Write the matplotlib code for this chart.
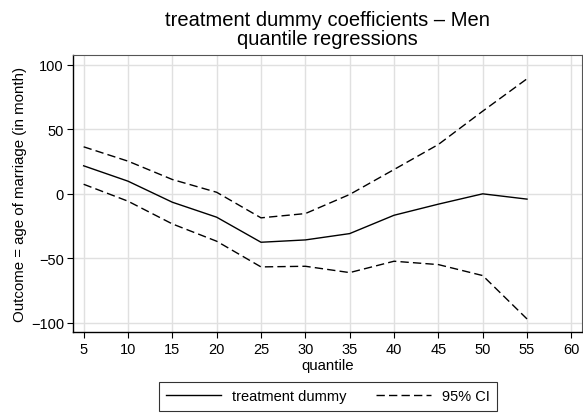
import numpy as np
import matplotlib
matplotlib.use("Agg")
import matplotlib.pyplot as plt
from matplotlib.lines import Line2D

plt.rcParams["font.family"] = ["Liberation Sans", "DejaVu Sans"]

# quantiles and estimates
quantile = [5, 10, 15, 20, 25, 30, 35, 40, 45, 50, 55]
coef = [21.7, 9.8, -6.5, -18.1, -37.5, -35.7, -30.8, -16.6, -8.0, 0.0, -4.1]
ci_upper = [36.4, 25.3, 11.1, 1.2, -18.6, -15.3, -0.5, 18.8, 38.2, 64.0, 89.1]
ci_lower = [7.4, -5.7, -23.3, -36.7, -56.6, -56.1, -61.0, -52.2, -54.8, -63.3, -96.9]

xticks = list(range(5, 65, 5))
yticks = [-100, -50, 0, 50, 100]
ytick_labels = ["\u2212100", "\u221250", "0", "50", "100"]

DASH = (0, (6, 3))

fig = plt.figure(figsize=(5.83, 4.14), dpi=100)
ax = fig.add_axes([73 / 583, 1 - 333 / 414, (582 - 73) / 583, (333 - 56) / 414])

ax.plot(quantile, coef, color="black", lw=1.0)
ax.plot(quantile, ci_upper, color="black", lw=1.0, ls=DASH)
ax.plot(quantile, ci_lower, color="black", lw=1.0, ls=DASH)

ax.set_xlim(3.8, 61.2)
ax.set_ylim(-107, 107.5)
ax.set_xticks(xticks)
ax.set_yticks(yticks)
ax.set_yticklabels(ytick_labels)
ax.grid(True, color="#e0e0e0", lw=1.0)
ax.set_axisbelow(True)
ax.tick_params(labelsize=10.5, length=4.5, width=0.8)
ax.tick_params(axis="y", pad=2)
ax.tick_params(axis="x", pad=3)

for side in ["top", "right"]:
    ax.spines[side].set_color("#555555")
    ax.spines[side].set_linewidth(0.8)
for side in ["left", "bottom"]:
    ax.spines[side].set_linewidth(1.0)

ax.set_xlabel("quantile", fontsize=10.8, labelpad=1)
ax.set_ylabel("Outcome = age of marriage (in month)", fontsize=10.8, labelpad=3)

# two-line title, centred over the plot region
fig.text(327 / 583, 1 - 26 / 414, "treatment dummy coefficients \u2013 Men",
         ha="center", va="baseline", fontsize=14.5)
fig.text(327 / 583, 1 - 45 / 414, "quantile regressions",
         ha="center", va="baseline", fontsize=14.5)

handles = [
    Line2D([], [], color="black", lw=1.0),
    Line2D([], [], color="black", lw=1.0, ls=DASH),
]
leg = fig.legend(handles, ["treatment dummy", "95% CI"], ncol=2,
                 loc="center", bbox_to_anchor=(328 / 583, 1 - 397.5 / 414),
                 fontsize=10.5, frameon=True, fancybox=False, edgecolor="black",
                 handlelength=3.8, handletextpad=0.75, columnspacing=2.0,
                 borderpad=0.5)
leg.get_frame().set_linewidth(0.8)

fig.savefig("out.png", dpi=100)
